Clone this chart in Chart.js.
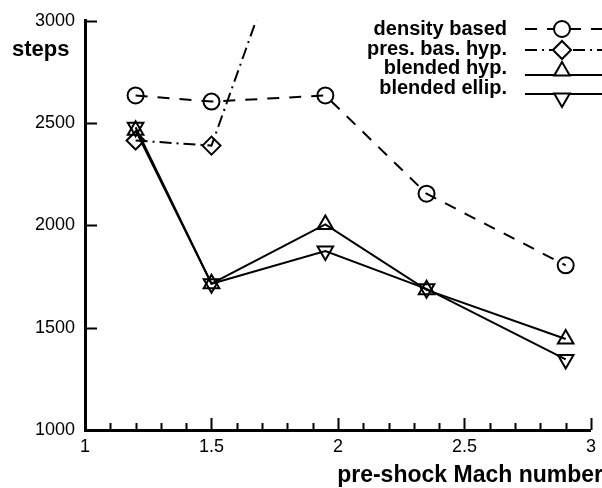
<!DOCTYPE html>
<html>
<head>
<meta charset="utf-8">
<script src="https://cdn.jsdelivr.net/npm/chart.js@4.4.1/dist/chart.umd.min.js"></script>
<style>
  html, body { margin: 0; padding: 0; background: #fff; }
</style>
</head>
<body>
<canvas id="chart" width="602" height="488" style="display:block;width:602px;height:488px"></canvas>
<script>
// data
var seriesNames = ["density based", "pres. bas. hyp.", "blended hyp.", "blended ellip."];
var machDensity = [1.2, 1.5, 1.95, 2.35, 2.9];
var stepsDensity = [2635, 2605, 2635, 2155, 1805];
var machPres = [1.2, 1.5, 1.95];
var stepsPres = [2415, 2390, 3950];
var machBlended = [1.2, 1.5, 1.95, 2.35, 2.9];
var stepsBlendedHyp = [2465, 1715, 2005, 1685, 1445];
var stepsBlendedEllip = [2480, 1715, 1875, 1690, 1345];
var xTicks = [1, 1.5, 2, 2.5, 3];
var yTicks = [1000, 1500, 2000, 2500, 3000];

var FONT = "'Liberation Sans', Arial, Helvetica, sans-serif";

function pts(xs, ys) {
  var out = [];
  for (let i = 0; i < xs.length; i++) out.push({ x: xs[i], y: ys[i] });
  return out;
}

function makeSet(name, data, dash, style, rotation, radius) {
  return {
    label: name,
    data: data,
    borderColor: "#000",
    borderWidth: 2,
    borderDash: dash,
    pointStyle: style,
    rotation: rotation,
    pointRadius: radius,
    pointBorderWidth: 2,
    pointBorderColor: "#000",
    pointBackgroundColor: "rgba(0,0,0,0)",
    fill: false,
    tension: 0,
  };
}

var datasets = [
  makeSet(seriesNames[0], pts(machDensity, stepsDensity), [12, 10], "circle", 0, 8),
  makeSet(seriesNames[1], pts(machPres, stepsPres), [12, 5, 2, 5], "rectRot", 0, 9),
  makeSet(seriesNames[2], pts(machBlended, stepsBlendedHyp), [], "triangle", 0, 9),
  makeSet(seriesNames[3], pts(machBlended, stepsBlendedEllip), [], "triangle", 180, 9),
];

// legend rows: text baseline, line y, marker y
var legendRows = [
  { text: 35, line: 29, mark: 29 },
  { text: 55, line: 50, mark: 50 },
  { text: 74, line: 75, mark: 71 },
  { text: 94, line: 94, mark: 98 },
];

var decorations = {
  id: "decorations",
  afterDraw: function (chart) {
    var ctx = chart.ctx;
    var xs = chart.scales.x;
    var ys = chart.scales.y;
    var area = chart.chartArea;
    ctx.save();
    ctx.strokeStyle = "#000";
    ctx.lineWidth = 2;
    ctx.setLineDash([]);

    // inward ticks on x
    for (let k = 10; k <= 30; k++) {
      var v = k / 10;
      var px = Math.round(xs.getPixelForValue(v)) + 0.5;
      var len = k % 5 === 0 ? 12 : 7;
      ctx.beginPath();
      ctx.moveTo(px, area.bottom);
      ctx.lineTo(px, area.bottom - len);
      ctx.stroke();
    }
    // inward ticks on y
    for (let i = 0; i < yTicks.length; i++) {
      var py = Math.round(ys.getPixelForValue(yTicks[i])) + 0.5;
      ctx.beginPath();
      ctx.moveTo(area.left, py);
      ctx.lineTo(area.left + 12, py);
      ctx.stroke();
    }

    // axis titles
    ctx.fillStyle = "#000";
    ctx.font = "bold 22px " + FONT;
    ctx.textAlign = "left";
    ctx.textBaseline = "alphabetic";
    ctx.fillText("steps", 12, 56);
    ctx.textAlign = "right";
    ctx.font = "bold 23px " + FONT;
    ctx.fillText("pre-shock Mach number", 603, 482);

    // legend
    ctx.font = "bold 20px " + FONT;
    for (let i = 0; i < chart.data.datasets.length; i++) {
      var ds = chart.data.datasets[i];
      var row = legendRows[i];
      ctx.textAlign = "right";
      ctx.fillStyle = "#000";
      ctx.fillText(ds.label, 507, row.text);
      ctx.setLineDash(ds.borderDash);
      ctx.beginPath();
      ctx.moveTo(525, row.line);
      ctx.lineTo(602, row.line);
      ctx.stroke();
      ctx.setLineDash([]);
      ctx.fillStyle = "#fff";
      Chart.helpers.drawPoint(ctx, {
        pointStyle: ds.pointStyle,
        radius: ds.pointRadius,
        rotation: ds.rotation,
        borderWidth: 2,
      }, 562, row.mark);
    }
    ctx.restore();
  },
};

var myChart = new Chart(document.getElementById("chart").getContext("2d"), {
  type: "line",
  data: { datasets: datasets },
  options: {
    responsive: false,
    maintainAspectRatio: false,
    animation: false,
    events: [],
    layout: {
      autoPadding: false,
      padding: { left: 0, right: 3, top: 14, bottom: 0 },
    },
    plugins: {
      legend: { display: false },
      tooltip: { enabled: false },
      title: { display: false },
    },
    scales: {
      x: {
        type: "linear",
        min: 1,
        max: 3,
        afterFit: function (scale) { scale.height = 58; },
        afterBuildTicks: function (scale) {
          scale.ticks = xTicks.map(function (v) { return { value: v }; });
        },
        grid: { display: false, drawTicks: false },
        border: { display: true, color: "#000", width: 3 },
        ticks: {
          padding: 6,
          color: "#000",
          maxRotation: 0,
          autoSkip: false,
          font: { family: FONT, size: 18 },
          callback: function (v) { return String(v); },
        },
      },
      y: {
        type: "linear",
        min: 1000,
        max: 3000,
        afterFit: function (scale) { scale.width = 85; },
        afterBuildTicks: function (scale) {
          scale.ticks = yTicks.map(function (v) { return { value: v }; });
        },
        grid: { display: false, drawTicks: false },
        border: { display: true, color: "#000", width: 3 },
        ticks: {
          padding: 10,
          color: "#000",
          autoSkip: false,
          font: { family: FONT, size: 18 },
          callback: function (v) { return String(v); },
        },
      },
    },
  },
  plugins: [decorations],
});
</script>
</body>
</html>
